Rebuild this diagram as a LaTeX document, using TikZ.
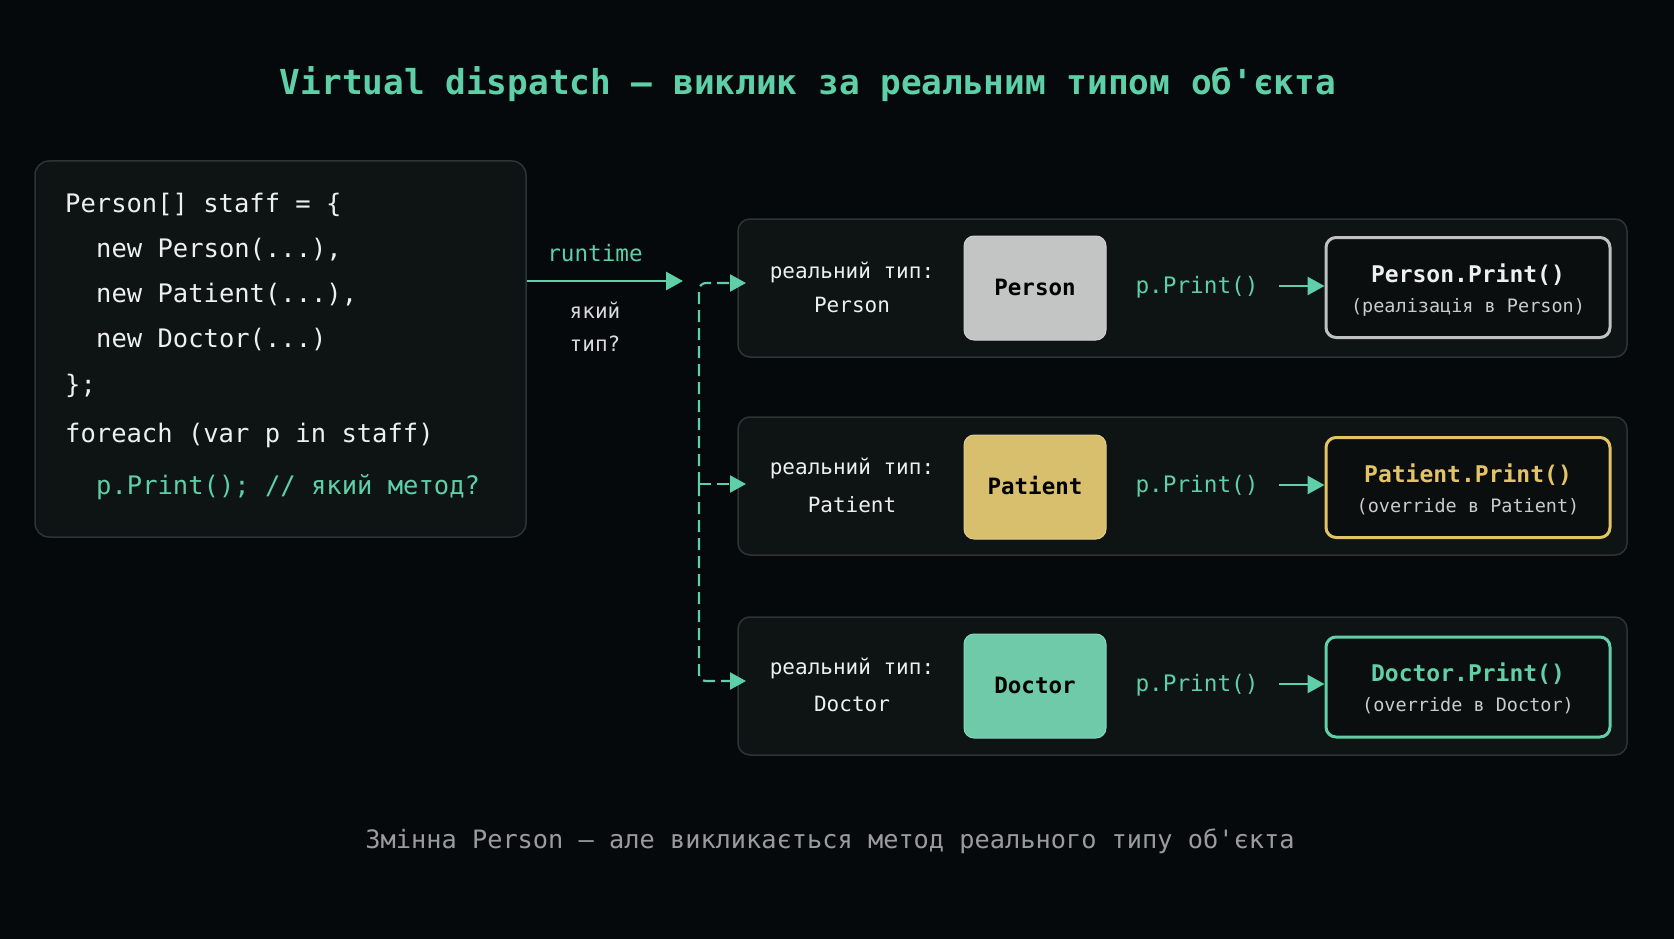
\documentclass[tikz,border=0pt]{standalone}
\usepackage{fontspec}
\setmonofont{DejaVu Sans Mono}
\usetikzlibrary{arrows.meta}
\definecolor{bgc}{HTML}{05090B}
\definecolor{panelfill}{HTML}{0E1314}
\definecolor{panelline}{HTML}{2E3333}
\definecolor{teal}{HTML}{5ECFA6}
\definecolor{graybox}{HTML}{C3C5C4}
\definecolor{yellowbox}{HTML}{D8BF6E}
\definecolor{tealbox}{HTML}{6ECAA9}
\definecolor{grayline}{HTML}{BFC2C2}
\definecolor{yellowline}{HTML}{E3C364}
\definecolor{tealline}{HTML}{62CFA6}
\definecolor{resfill}{HTML}{0A0E0F}
\definecolor{whitetxt}{HTML}{EEF0EF}
\definecolor{subtxt}{HTML}{C9CCCB}
\definecolor{foottxt}{HTML}{9A9C9C}
\definecolor{lbltxt}{HTML}{D8DAD9}
\begin{document}
\begin{tikzpicture}[x=1pt,y=-1pt,
  codebox/.style={draw=panelline, line width=1.5pt, fill=panelfill, rounded corners=14pt, minimum width=491pt, minimum height=376pt, inner sep=0pt},
  rowbox/.style={draw=panelline, line width=1.5pt, fill=panelfill, rounded corners=12pt, minimum width=889pt, minimum height=138pt, inner sep=0pt},
  typebox/.style={rounded corners=10pt, minimum width=142pt, minimum height=104pt, inner sep=0pt, line width=1pt, font=\ttfamily\bfseries\fontsize{22.5}{27}\selectfont, text=black, text height=15.75pt, text depth=0pt},
  resbox/.style={rounded corners=10pt, minimum width=284pt, minimum height=100pt, inner sep=0pt, line width=3pt, fill=resfill},
  codetxt/.style={anchor=west, inner sep=0pt, font=\ttfamily\fontsize{25.5}{30}\selectfont, text=whitetxt, text height=17.85pt, text depth=0pt},
  lbl/.style={inner sep=0pt, font=\ttfamily\fontsize{21}{25}\selectfont, text=whitetxt, text height=14.7pt, text depth=0pt},
  ptxt/.style={inner sep=0pt, font=\ttfamily\fontsize{22.7}{27}\selectfont, text=teal, text height=15.9pt, text depth=0pt},
  restitle/.style={inner sep=0pt, font=\ttfamily\bfseries\fontsize{23}{27}\selectfont, text height=16.1pt, text depth=0pt},
  ressub/.style={inner sep=0pt, font=\ttfamily\fontsize{18.5}{22}\selectfont, text=subtxt, text height=12.95pt, text depth=0pt},
  arr/.style={draw=teal, line width=2.8pt, -{Triangle[length=17pt,width=18pt]}},
  dasharr/.style={draw=teal, line width=2.2pt, dash pattern=on 12pt off 6pt, -{Triangle[length=16pt,width=17pt]}}
]
\fill[bgc] (0,0) rectangle (1674,939);
\useasboundingbox (0,0) rectangle (1674,939);

% title
\node[inner sep=0pt, font=\ttfamily\bfseries\fontsize{34.4}{40}\selectfont, text=teal, text height=24pt, text depth=0pt] (title) at (808,83) {Virtual dispatch – виклик за реальним типом об'єкта};

% code panel
\node[codebox] (codebox) at (280.5,349) {};
\node[codetxt] (c1) at (65,204) {Person[] staff = \{};
\node[codetxt] (c2) at (96,249) {new Person(...),};
\node[codetxt] (c3) at (96,294) {new Patient(...),};
\node[codetxt] (c4) at (96,339) {new Doctor(...)};
\node[codetxt] (c5) at (65,385) {\};};
\node[codetxt] (c6) at (65,434) {foreach (var p in staff)};
\node[codetxt, text=teal] (c7) at (96,486) {p.Print(); // який метод?};

% runtime arrow
\coordinate (rtend) at (683,281);
\draw[arr] (codebox.east |- rtend) -- (rtend);
\node[ptxt, font=\ttfamily\fontsize{22.6}{27}\selectfont] (rtlabel) at (595,254) {runtime};
\node[lbl, text=lbltxt] (q1) at (595,311) {який};
\node[lbl, text=lbltxt] (q2) at (595,344) {тип?};

% rows
\node[rowbox] (row1) at (1182.5,288) {};
\node[rowbox] (row2) at (1182.5,486) {};
\node[rowbox] (row3) at (1182.5,686) {};

% dashed dispatch
\coordinate (trunk) at (699,484);
\coordinate (a1) at (746,283);
\coordinate (a2) at (746,484);
\coordinate (a3) at (746,681);
\draw[dasharr, rounded corners=7pt] (trunk) |- (a1);
\draw[dasharr] (trunk) -- (a2);
\draw[dasharr, rounded corners=7pt] (trunk) |- (a3);

% row labels
\node[lbl] (l1a) at (852,271) {реальний тип:};
\node[lbl] (l1b) at (852,305) {Person};
\node[lbl] (l2a) at (852,467) {реальний тип:};
\node[lbl] (l2b) at (852,505) {Patient};
\node[lbl] (l3a) at (852,667) {реальний тип:};
\node[lbl] (l3b) at (852,704) {Doctor};

% type boxes
\node[typebox, fill=graybox, draw=graybox!80!white] (t1) at (1035,288) {Person};
\node[typebox, fill=yellowbox, draw=yellowbox!80!white] (t2) at (1035,487) {Patient};
\node[typebox, fill=tealbox, draw=tealbox!80!white] (t3) at (1035,686) {Doctor};

% p.Print()
\node[ptxt] (p1) at (1197,286) {p.Print()};
\node[ptxt] (p2) at (1197,485) {p.Print()};
\node[ptxt] (p3) at (1197,684) {p.Print()};

% result boxes
\node[resbox, draw=grayline] (r1) at (1468,287.5) {};
\node[resbox, draw=yellowline] (r2) at (1468,487.5) {};
\node[resbox, draw=tealline] (r3) at (1468,687) {};

\draw[arr] ([xshift=20pt]p1.east) -- (r1.west |- p1.east);
\draw[arr] ([xshift=20pt]p2.east) -- (r2.west |- p2.east);
\draw[arr] ([xshift=20pt]p3.east) -- (r3.west |- p3.east);

\node[restitle, text=whitetxt] (r1t) at ([yshift=13.5pt]r1.center) {Person.Print()};
\node[ressub] (r1s) at ([yshift=-18.5pt]r1.center) {(реалізація в Person)};
\node[restitle, text=yellowline] (r2t) at ([yshift=13.5pt]r2.center) {Patient.Print()};
\node[ressub] (r2s) at ([yshift=-18.5pt]r2.center) {(override в Patient)};
\node[restitle, text=tealline] (r3t) at ([yshift=13.5pt]r3.center) {Doctor.Print()};
\node[ressub] (r3s) at ([yshift=-18.5pt]r3.center) {(override в Doctor)};

% footer
\node[inner sep=0pt, font=\ttfamily\fontsize{25.3}{30}\selectfont, text=foottxt, text height=17.7pt, text depth=0pt] (foot) at (830,840) {Змінна Person – але викликається метод реального типу об'єкта};
\end{tikzpicture}
\end{document}
